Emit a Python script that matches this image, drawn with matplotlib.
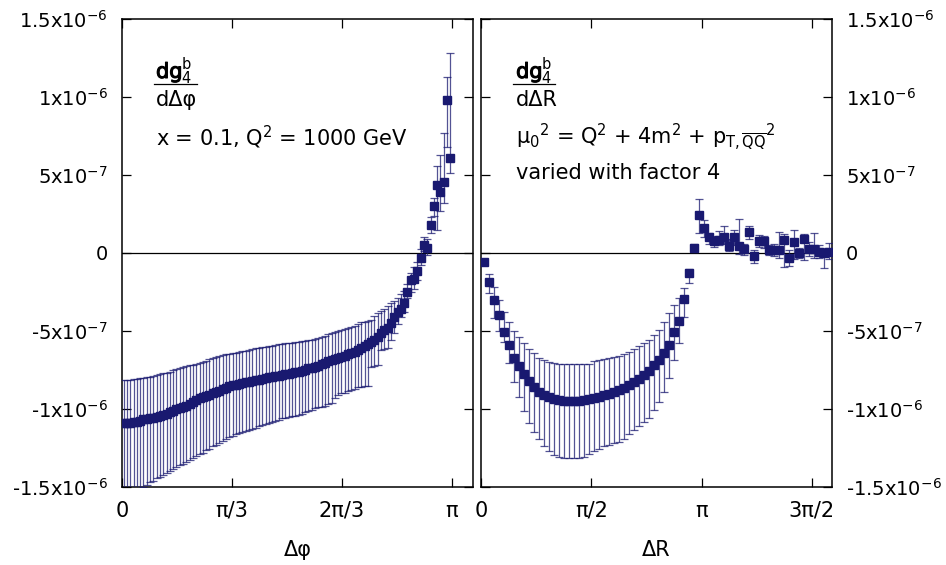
import numpy as np
import matplotlib
matplotlib.use('Agg')
import matplotlib.pyplot as plt
import matplotlib.patheffects as pe
from matplotlib.lines import Line2D

plt.rcParams['font.family'] = ['DejaVu Sans']
plt.rcParams['mathtext.default'] = 'regular'

NAVY = '#191970'
SCALE = 1e-7

# ---- left panel: d g / d dphi, 100 bins in [0, pi] (values in 1e-7) ----
phi_n = 100
phi_c = [
    -10.90, -10.90, -10.88, -10.86, -10.85, -10.80, -10.66, -10.64, -10.60, -10.56,
    -10.50, -10.42, -10.36, -10.30, -10.22, -10.10, -10.02, -9.94, -9.85, -9.78,
    -9.66, -9.56, -9.44, -9.32, -9.26, -9.18, -9.10, -9.00, -8.90, -8.84,
    -8.72, -8.64, -8.55, -8.46, -8.44, -8.38, -8.33, -8.28, -8.25, -8.22,
    -8.16, -8.12, -8.06, -8.03, -7.98, -7.94, -7.90, -7.86, -7.82, -7.78,
    -7.73, -7.68, -7.64, -7.60, -7.54, -7.48, -7.40, -7.34, -7.29, -7.22,
    -7.14, -7.04, -6.95, -6.86, -6.80, -6.72, -6.65, -6.58, -6.50, -6.43,
    -6.33, -6.22, -6.10, -5.95, -5.85, -5.68, -5.55, -5.40, -5.10, -4.95,
    -4.83, -4.50, -4.08, -3.76, -3.60, -3.18, -2.48, -1.70, -1.65, -1.13,
    -0.30, 0.51, 0.30, 1.79, 3.03, 4.36, 3.93, 4.57, 9.80, 6.10,
]
phi_hi = [
    -8.15, -8.14, -8.12, -8.10, -8.08, -8.04, -7.99, -7.96, -7.93, -7.88,
    -7.82, -7.76, -7.71, -7.67, -7.60, -7.52, -7.44, -7.37, -7.30, -7.26,
    -7.20, -7.15, -7.10, -7.07, -6.98, -6.90, -6.80, -6.72, -6.65, -6.60,
    -6.55, -6.50, -6.46, -6.43, -6.39, -6.34, -6.30, -6.26, -6.22, -6.17,
    -6.12, -6.08, -6.04, -6.00, -5.96, -5.93, -5.90, -5.86, -5.83, -5.80,
    -5.77, -5.74, -5.71, -5.68, -5.66, -5.63, -5.60, -5.56, -5.53, -5.45,
    -5.38, -5.30, -5.22, -5.15, -5.08, -5.02, -4.95, -4.90, -4.83, -4.76,
    -4.66, -4.55, -4.45, -4.40, -4.35, -4.30, -4.05, -3.85, -3.72, -3.60,
    -3.40, -3.20, -3.05, -2.90, -2.60, -2.45, -2.00, -1.30, -0.90, -0.55,
    0.25, 1.00, 0.90, 2.30, 3.50, 5.60, 6.30, 7.70, 11.30, 12.80,
]
phi_lo = [
    -15.6, -15.5, -15.4, -15.3, -15.2, -15.1, -15.0, -14.85, -14.7, -14.6,
    -14.45, -14.35, -14.2, -14.1, -13.95, -13.85, -13.7, -13.6, -13.5, -13.4,
    -13.25, -13.15, -13.0, -12.9, -12.8, -12.65, -12.55, -12.4, -12.3, -12.2,
    -12.05, -11.95, -11.8, -11.7, -11.62, -11.55, -11.48, -11.42, -11.35, -11.28,
    -11.2, -11.12, -11.04, -10.96, -10.9, -10.82, -10.75, -10.68, -10.6, -10.56,
    -10.52, -10.48, -10.44, -10.4, -10.3, -10.22, -10.12, -10.04, -9.96, -9.9,
    -9.84, -9.78, -9.7, -9.64, -9.3, -9.1, -9.0, -8.95, -8.85, -8.78,
    -8.7, -8.62, -8.57, -8.52, -8.5, -7.3, -7.25, -7.2, -6.2, -6.15,
    -6.1, -5.58, -5.15, -4.55, -4.08, -3.8, -2.9, -2.5, -2.3, -1.7,
    -0.8, 0.1, -0.1, 1.3, 2.4, 1.5, 2.7, 3.2, 6.8, 5.1,
]

# ---- right panel: d g / d dR, 70 bins in [0, 5] (values in 1e-7) ----
dr_n = 70
dr_max = 5.0
dr_c = [
    -0.60, -1.84, -3.00, -4.00, -5.04, -5.90, -6.70, -7.24, -7.78, -8.20,
    -8.57, -8.89, -9.10, -9.25, -9.36, -9.42, -9.47, -9.50, -9.50, -9.47,
    -9.42, -9.35, -9.28, -9.20, -9.12, -9.02, -8.92, -8.80, -8.65, -8.48,
    -8.28, -8.05, -7.80, -7.56, -7.20, -6.86, -6.43, -5.90, -5.04, -4.34,
    -2.95, -1.30, 0.30, 2.44, 1.60, 1.00, 0.75, 0.83, 1.05, 0.45,
    1.00, 0.42, 0.28, 1.37, -0.18, 0.78, 0.78, 0.20, 0.19, 0.19,
    0.81, -0.34, 0.68, 0.00, 0.92, 0.27, 0.24, 0.09, -0.02, 0.09,
]
dr_hi = [
    -0.45, -1.35, -2.20, -3.00, -3.76, -4.40, -4.98, -5.40, -5.79, -6.13,
    -6.43, -6.75, -6.86, -6.97, -7.07, -7.12, -7.12, -7.14, -7.14, -7.12,
    -7.12, -7.10, -6.90, -6.86, -6.80, -6.75, -6.65, -6.60, -6.45, -6.33,
    -6.15, -5.95, -5.79, -5.60, -5.26, -4.94, -4.40, -3.87, -3.33, -2.90,
    -2.26, -1.00, 0.55, 3.46, 2.10, 1.30, 1.10, 1.40, 1.75, 0.90,
    1.50, 2.15, 0.60, 1.70, 0.20, 1.15, 1.10, 0.50, 0.55, 1.37,
    1.20, 0.20, 1.50, 0.35, 1.22, 0.70, 1.26, 0.50, 0.30, 0.62,
]
dr_lo = [
    -0.75, -2.54, -4.19, -5.00, -5.68, -7.07, -8.25, -9.25, -10.10, -10.90,
    -11.50, -11.90, -12.40, -12.70, -12.95, -13.10, -13.12, -13.16, -13.16, -13.12,
    -13.06, -12.90, -12.70, -12.56, -12.40, -12.30, -12.16, -12.10, -11.90, -11.60,
    -11.35, -11.10, -10.85, -10.60, -10.06, -9.53, -8.89, -8.03, -6.86, -5.79,
    -4.08, -1.94, 0.05, 1.30, 1.00, 0.60, 0.40, 0.50, 0.60, 0.10,
    0.50, -0.05, -0.10, 0.90, -0.62, 0.40, 0.35, -0.10, -0.20, -0.30,
    -0.88, -0.85, -0.40, -0.30, -0.45, -0.20, -0.30, -0.35, -0.98, -0.40,
]

yticks = [-15e-7, -10e-7, -5e-7, 0, 5e-7, 10e-7, 15e-7]
ytick_labels = ['-1.5x10$^{-6}$', '-1x10$^{-6}$', '-5x10$^{-7}$', '0',
                '5x10$^{-7}$', '1x10$^{-6}$', '1.5x10$^{-6}$']


def draw(ax, x, c, hi, lo):
    c = np.array(c) * SCALE
    hi = np.array(hi) * SCALE
    lo = np.array(lo) * SCALE
    ax.axhline(0, color='black', lw=0.9, zorder=1)
    ax.errorbar(x, c, yerr=[c - lo, hi - c], fmt='s', color=NAVY, ms=6.2,
                mec=NAVY, ecolor=(0.098, 0.098, 0.44, 0.75), elinewidth=0.9,
                capsize=3.2, capthick=0.9, zorder=3)
    ax.set_ylim(-1.5e-6, 1.5e-6)
    ax.set_yticks(yticks)
    ax.tick_params(direction='in', length=6.5, width=0.9, top=True, right=True,
                   left=True, bottom=True, labelsize=15, pad=10)
    ax.tick_params(axis='y', labelsize=14)
    for s in ax.spines.values():
        s.set_linewidth(1.1)


def frac(ax, x0, den, bar):
    # numerator: "dg" drawn a little heavier, then the indices right after it
    t = ax.text(x0, 0.874, 'dg', transform=ax.transAxes, fontsize=15, va='baseline',
                ha='left', path_effects=[pe.withStroke(linewidth=0.8, foreground='black')])
    ax.annotate('${}_4^b$', xy=(1.0, 0.874), xycoords=(t, 'axes fraction'),
                xytext=(-1, 0), textcoords='offset points',
                fontsize=15, va='baseline', ha='left')
    ax.text(x0, 0.826, den, transform=ax.transAxes, fontsize=15, va='center', ha='left')
    ax.add_line(Line2D(bar, [0.861, 0.861], transform=ax.transAxes, color='black', lw=0.9))


fig = plt.figure(figsize=(9.46, 5.65), dpi=100)
ax1 = fig.add_axes([122 / 946, 78 / 565, 351 / 946, 468 / 565])
ax2 = fig.add_axes([481 / 946, 78 / 565, 351 / 946, 468 / 565])

# left
x_phi = (np.arange(phi_n) + 0.5) * np.pi / phi_n
draw(ax1, x_phi, phi_c, phi_hi, phi_lo)
ax1.set_xlim(0, 3.3415)
ax1.set_xticks([0, np.pi / 3, 2 * np.pi / 3, np.pi])
ax1.set_xticklabels(['0', 'π/3', '2π/3', 'π'])
ax1.set_yticklabels(ytick_labels)
ax1.set_xlabel('Δφ', fontsize=15, labelpad=14)
frac(ax1, 0.097, 'dΔφ', [0.090, 0.213])
ax1.text(0.097, 0.748, 'x = 0.1, Q$^2$ = 1000 GeV', transform=ax1.transAxes,
         fontsize=15, va='center', ha='left')

# right
x_dr = (np.arange(dr_n) + 0.5) * dr_max / dr_n
draw(ax2, x_dr, dr_c, dr_hi, dr_lo)
ax2.set_xlim(0, dr_max)
ax2.set_xticks([0, np.pi / 2, np.pi, 3 * np.pi / 2])
ax2.set_xticklabels(['0', 'π/2', 'π', '3π/2'])
ax2.tick_params(labelleft=False, labelright=True)
ax2.set_yticklabels(ytick_labels)
ax2.set_xlabel('ΔR', fontsize=15, labelpad=14)
frac(ax2, 0.100, 'dΔR', [0.090, 0.211])
ax2.text(0.100, 0.748, r'μ$_0$$^2$ = Q$^2$ + 4m$^2$ + p$_{T,\overline{QQ}}$$^2$',
         transform=ax2.transAxes, fontsize=15, va='center', ha='left')
ax2.text(0.100, 0.671, 'varied with factor 4', transform=ax2.transAxes,
         fontsize=15, va='center', ha='left')

fig.savefig('out.png', dpi=100)
